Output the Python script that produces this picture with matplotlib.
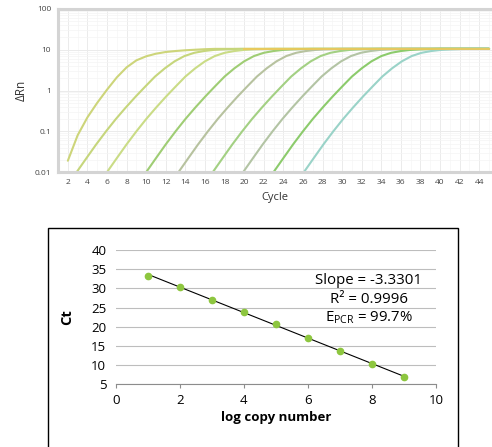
import numpy as np
import matplotlib
matplotlib.use("Agg")
import matplotlib.pyplot as plt
from matplotlib.patches import Rectangle

plt.rcParams['font.family'] = ['Open Sans', 'DejaVu Sans']

# amplification plot data
curve1_cycles = [2, 3, 4, 5, 6, 7, 8, 9, 10, 11, 12, 13, 14, 15, 16, 17]
curve1_rn = [0.019, 0.08, 0.22, 0.5, 1.05, 2.1, 3.7, 5.5, 6.9, 8.0, 8.8, 9.3, 9.7, 10.0, 10.3, 10.5]
# shared shape of the later curves, one value per cycle after the start
profile_rn = [0.01, 0.022, 0.048, 0.1, 0.2, 0.38, 0.7, 1.25, 2.2, 3.5, 5.2, 7.0, 8.4, 9.3, 9.9, 10.2, 10.4, 10.5]
curve_starts = [2.9, 6.0, 10.0, 13.3, 16.8, 19.9, 23.0, 26.1]
plateau = 10.5
curve_colors = ['#cdd57a', '#c6d67c', '#cadc86', '#9fcd74', '#b7c29f', '#a3d083', '#b3c4a4', '#8ccb6c', '#9ad3c8']

# standard curve data
log_copies = [1, 2, 3, 4, 5, 6, 7, 8, 9]
ct_values = [33.3, 30.4, 27.0, 23.9, 20.6, 17.1, 13.8, 10.3, 6.9]
stats_text = ["Slope = -3.3301", "R² = 0.9996", "E$_{\\mathregular{PCR}}$ = 99.7%"]

fig = plt.figure(figsize=(4.92, 4.47), dpi=100)

# ---- top: amplification plot ----
ax1 = fig.add_axes([0.118, 0.615, 0.882, 0.365])
ax1.set_yscale('log')
ax1.set_xlim(1.1, 45.3)
ax1.set_ylim(0.01, 100)

ax1.plot(curve1_cycles + [45], curve1_rn + [plateau], color=curve_colors[0], lw=1.5, solid_capstyle='round')
for start, col in zip(curve_starts, curve_colors[1:]):
    xs = list(start + np.arange(len(profile_rn))) + [45]
    ys = profile_rn + [plateau]
    ax1.plot(xs, ys, color=col, lw=1.5, solid_capstyle='round')
# orange tinted plateau on top
ax1.plot([20, 45], [plateau, plateau], color='#ecc95a', lw=1.3)

ax1.set_xticks(range(2, 45, 2))
ax1.set_yticks([0.01, 0.1, 1, 10, 100])
ax1.set_yticklabels(['0.01', '0.1', '1', '10', '100'])
ax1.yaxis.set_minor_formatter(plt.NullFormatter())
ax1.tick_params(axis='both', labelsize=6, colors='#444444', length=0, pad=5)
ax1.grid(True, which='major', color='#ebebeb', lw=0.7)
ax1.grid(True, which='minor', axis='y', color='#f4f4f4', lw=0.5)
ax1.set_xticks(np.arange(1, 46, 1), minor=True)
ax1.grid(True, which='minor', axis='x', color='#f6f6f6', lw=0.5)
ax1.tick_params(which='minor', length=0)
for sp in ax1.spines.values():
    sp.set_color('#d4d4d4')
    sp.set_linewidth(2.2)
ax1.spines['right'].set_visible(False)
ax1.set_axisbelow(True)
ax1.set_ylabel('ΔRn', fontsize=8.5, color='#333333', labelpad=5)
ax1.set_xlabel('Cycle', fontsize=8, color='#333333', labelpad=4)

# ---- bottom: standard curve ----
fig.patches.append(Rectangle((48 / 492, -0.01), (458 - 48) / 492, 1 - 228 / 447 + 0.01,
                             transform=fig.transFigure, fill=False, edgecolor='black', lw=1.0))

ax2 = fig.add_axes([0.2358, 0.1403, 0.650, 0.3004])
ax2.set_xlim(0, 10)
ax2.set_ylim(5, 40)
slope, icpt = np.polyfit(log_copies, ct_values, 1)
xfit = np.array([log_copies[0], log_copies[-1]])
ax2.plot(xfit, slope * xfit + icpt, color='black', lw=0.8, zorder=2)
ax2.plot(log_copies, ct_values, 'o', color='#8dc63f', markersize=4.5, zorder=3)

ax2.set_xticks(range(0, 11, 2))
ax2.set_yticks(range(5, 41, 5))
ax2.grid(True, axis='y', color='#bdbdbd', lw=0.8)
ax2.set_axisbelow(True)
for s in ['top', 'right', 'left']:
    ax2.spines[s].set_visible(False)
ax2.spines['bottom'].set_color('#8c8c8c')
ax2.tick_params(axis='y', length=0, labelsize=9.5, pad=7)
ax2.tick_params(axis='x', length=3, color='#8c8c8c', labelsize=9.5, pad=4)
ax2.set_xlabel('log copy number', fontsize=9.5, fontweight='bold', labelpad=3)
ax2.set_ylabel('Ct', fontsize=10.5, fontweight='bold', labelpad=12)

for i, t in enumerate(stats_text):
    ax2.text(7.9, 32.1 - i * 4.9, t, fontsize=10.8, ha='center', va='center')

fig.savefig('out.png', dpi=100)
